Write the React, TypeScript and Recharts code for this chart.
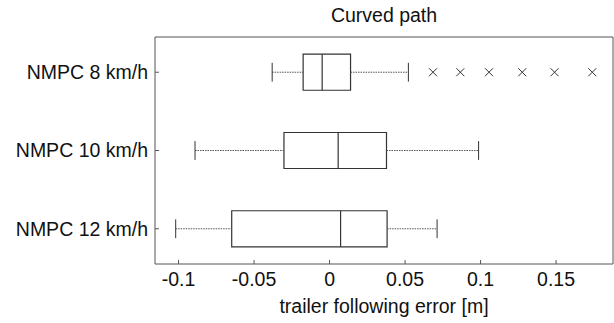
import { ScatterChart, Scatter, XAxis, YAxis, ReferenceArea, ReferenceLine } from 'recharts'

const categories = ['NMPC 8 km/h', 'NMPC 10 km/h', 'NMPC 12 km/h']
const rows = [1, 2, 3]
const whiskerLow = [-0.038, -0.0891, -0.1019]
const q1 = [-0.0175, -0.0302, -0.0648]
const median = [-0.0049, 0.0057, 0.0073]
const q3 = [0.0139, 0.0377, 0.0381]
const whiskerHigh = [0.0522, 0.0987, 0.0712]
// outliers only on the 8 km/h row
const outliers8 = [0.0685, 0.0866, 0.1056, 0.1276, 0.149, 0.174]
const xTicks = [-0.1, -0.05, 0, 0.05, 0.1, 0.15]

const FONT = '"Liberation Sans", Arial, Helvetica, sans-serif'
const FS = 19.5
const X_DOMAIN: [number, number] = [-0.1156, 0.1877]
const Y_DOMAIN: [number, number] = [0.55, 3.45]
const BOX_HALF = 0.23
const CAP_HALF = 0.12
const LINE = '#333'
const AXIS = '#555'

const outlierData = outliers8.map((x) => ({ x, y: rows[0] }))

const Cross = (props: any) => {
  const { cx, cy } = props
  const s = 4
  return (
    <path
      d={`M${cx - s},${cy - s}L${cx + s},${cy + s}M${cx + s},${cy - s}L${cx - s},${cy + s}`}
      stroke={LINE}
      strokeWidth={1}
      fill="none"
    />
  )
}

export default function App() {
  const ax = { xAxisId: 'b', yAxisId: 'l' }
  return (
    <div style={{ position: 'absolute', left: 0, top: 0, fontFamily: FONT }}>
      <ScatterChart width={614} height={323} margin={{ top: 36, right: 0, bottom: 0, left: 0 }}>
        <text x={384} y={21.5} textAnchor="middle" fontSize={FS} fill="#111" fontFamily={FONT}>
          Curved path
        </text>
        <XAxis
          xAxisId="b"
          type="number"
          dataKey="x"
          domain={X_DOMAIN}
          ticks={xTicks}
          allowDataOverflow
          height={59}
          tickSize={-4}
          tickMargin={12}
          tickFormatter={(v: number) => String(v)}
          tick={{ fill: '#111', fontSize: FS, fontFamily: FONT }}
          stroke={AXIS}
          tickLine={{ stroke: AXIS }}
          label={{ value: 'trailer following error [m]', position: 'insideBottom', offset: 10, fill: '#111', fontSize: FS, fontFamily: FONT }}
        />
        <XAxis
          xAxisId="t"
          orientation="top"
          type="number"
          dataKey="x"
          domain={X_DOMAIN}
          ticks={xTicks}
          allowDataOverflow
          height={1}
          tickSize={-4}
          tick={false}
          stroke={AXIS}
          tickLine={{ stroke: AXIS }}
        />
        <YAxis
          yAxisId="l"
          type="number"
          dataKey="y"
          domain={Y_DOMAIN}
          reversed
          ticks={rows}
          allowDataOverflow
          width={155}
          tickSize={-4}
          tickMargin={11}
          tickFormatter={(v: number) => categories[v - 1]}
          tick={{ fill: '#111', fontSize: FS, fontFamily: FONT }}
          stroke={AXIS}
          tickLine={{ stroke: AXIS }}
        />
        <YAxis
          yAxisId="r"
          orientation="right"
          type="number"
          dataKey="y"
          domain={Y_DOMAIN}
          reversed
          ticks={rows}
          allowDataOverflow
          width={1}
          tickSize={-4}
          tick={false}
          stroke={AXIS}
          tickLine={{ stroke: AXIS }}
        />
        {rows.map((r, i) => (
          <ReferenceLine
            key={`wl${i}`}
            {...ax}
            segment={[{ x: whiskerLow[i], y: r }, { x: q1[i], y: r }]}
            stroke="#555"
            strokeDasharray="1.5 1"
          />
        ))}
        {rows.map((r, i) => (
          <ReferenceLine
            key={`wh${i}`}
            {...ax}
            segment={[{ x: q3[i], y: r }, { x: whiskerHigh[i], y: r }]}
            stroke="#555"
            strokeDasharray="1.5 1"
          />
        ))}
        {rows.map((r, i) => (
          <ReferenceLine
            key={`cl${i}`}
            {...ax}
            segment={[{ x: whiskerLow[i], y: r - CAP_HALF }, { x: whiskerLow[i], y: r + CAP_HALF }]}
            stroke={LINE}
          />
        ))}
        {rows.map((r, i) => (
          <ReferenceLine
            key={`ch${i}`}
            {...ax}
            segment={[{ x: whiskerHigh[i], y: r - CAP_HALF }, { x: whiskerHigh[i], y: r + CAP_HALF }]}
            stroke={LINE}
          />
        ))}
        {rows.map((r, i) => (
          <ReferenceArea
            key={`box${i}`}
            {...ax}
            x1={q1[i]}
            x2={q3[i]}
            y1={r - BOX_HALF}
            y2={r + BOX_HALF}
            fill="none"
            stroke={LINE}
            strokeWidth={1.2}
          />
        ))}
        {rows.map((r, i) => (
          <ReferenceLine
            key={`med${i}`}
            {...ax}
            segment={[{ x: median[i], y: r - BOX_HALF }, { x: median[i], y: r + BOX_HALF }]}
            stroke={LINE}
            strokeWidth={1.2}
          />
        ))}
        <Scatter {...ax} data={outlierData} shape={Cross} isAnimationActive={false} />
      </ScatterChart>
    </div>
  )
}
